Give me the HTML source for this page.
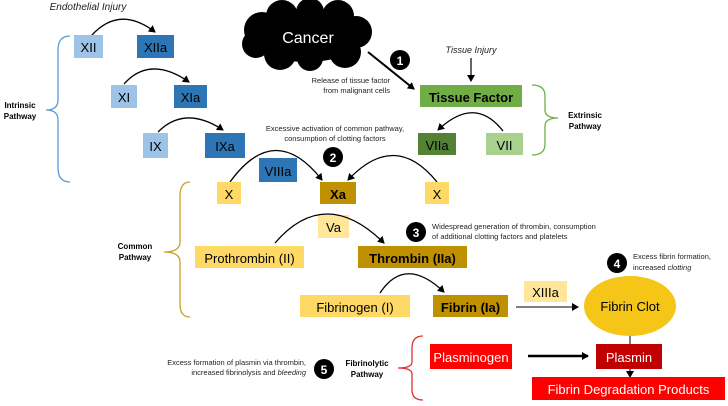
<!DOCTYPE html>
<html><head><meta charset="utf-8"><style>
html,body{margin:0;padding:0;background:#fff;}
svg{display:block;font-family:"Liberation Sans",Arial,sans-serif;}
</style></head><body>
<svg width="728" height="406" viewBox="0 0 728 406" xmlns="http://www.w3.org/2000/svg">
<defs>
<marker id="a" markerWidth="8" markerHeight="8" refX="6" refY="4" orient="auto" markerUnits="userSpaceOnUse"><path d="M0,0 L7,4 L0,8 z" fill="#000"/></marker>
</defs>
<rect width="728" height="406" fill="#fff"/>

<!-- cloud -->
<g fill="#000">
<ellipse cx="306" cy="36" rx="58" ry="26"/>
<circle cx="262" cy="30" r="18"/><circle cx="282" cy="16" r="16"/><circle cx="310" cy="12" r="14"/>
<circle cx="338" cy="16" r="16"/><circle cx="356" cy="32" r="16"/><circle cx="345" cy="52" r="16"/>
<circle cx="310" cy="58" r="13"/><circle cx="280" cy="54" r="16"/><circle cx="256" cy="44" r="14"/>
</g>
<text x="308" y="43" font-size="16" fill="#fff" text-anchor="middle">Cancer</text>

<!-- intrinsic -->
<text x="88" y="10" font-size="10" font-style="italic" text-anchor="middle" fill="#222">Endothelial Injury</text>
<path d="M92,35 Q120,5 155,32" fill="none" stroke="#000" stroke-width="1.3" marker-end="url(#a)"/>
<rect x="74" y="35" width="29" height="23" fill="#9dc3e6"/><text x="88.5" y="52" font-size="13" text-anchor="middle">XII</text>
<rect x="137" y="35" width="37" height="23" fill="#2e75b6"/><text x="155.5" y="52" font-size="13" text-anchor="middle">XIIa</text>
<path d="M124,84 Q150,55 189,82" fill="none" stroke="#000" stroke-width="1.3" marker-end="url(#a)"/>
<rect x="111" y="85" width="26" height="23" fill="#9dc3e6"/><text x="124" y="102" font-size="13" text-anchor="middle">XI</text>
<rect x="174" y="85" width="33" height="23" fill="#2e75b6"/><text x="190.5" y="102" font-size="13" text-anchor="middle">XIa</text>
<path d="M158,132 Q185,105 223,130" fill="none" stroke="#000" stroke-width="1.3" marker-end="url(#a)"/>
<rect x="143" y="133" width="25" height="25" fill="#9dc3e6"/><text x="155.5" y="151" font-size="13" text-anchor="middle">IX</text>
<rect x="205" y="133" width="40" height="25" fill="#2e75b6"/><text x="225" y="151" font-size="13" text-anchor="middle">IXa</text>
<path d="M70,36 Q58,36 58,50 L58,100 Q58,110 46,110 Q58,110 58,120 L58,168 Q58,182 70,182" fill="none" stroke="#5b9bd5" stroke-width="1.3"/>
<text x="20" y="108" font-size="8" font-weight="bold" text-anchor="middle">Intrinsic</text>
<text x="20" y="119" font-size="8" font-weight="bold" text-anchor="middle">Pathway</text>

<!-- extrinsic -->
<line x1="368" y1="52" x2="414" y2="89" stroke="#000" stroke-width="2" marker-end="url(#a)"/>
<circle cx="400" cy="60" r="10" fill="#000"/><text x="400" y="65" font-size="12" font-weight="bold" fill="#fff" text-anchor="middle">1</text>
<text x="390" y="83" font-size="7.5" text-anchor="end" fill="#222">Release of tissue factor</text>
<text x="390" y="93" font-size="7.5" text-anchor="end" fill="#222">from malignant cells</text>
<text x="471" y="53" font-size="9" font-style="italic" text-anchor="middle" fill="#222">Tissue Injury</text>
<line x1="471" y1="58" x2="471" y2="81" stroke="#000" stroke-width="1.2" marker-end="url(#a)"/>
<rect x="420" y="85" width="102" height="22" fill="#70ad47"/><text x="471" y="102" font-size="13" font-weight="bold" text-anchor="middle">Tissue Factor</text>
<path d="M503,131 Q475,95 438,130" fill="none" stroke="#000" stroke-width="1.3" marker-end="url(#a)"/>
<rect x="418" y="133" width="38" height="22" fill="#548235"/><text x="437" y="150" font-size="13" text-anchor="middle">VIIa</text>
<rect x="486" y="133" width="37" height="22" fill="#a9d18e"/><text x="504.5" y="150" font-size="13" text-anchor="middle">VII</text>
<path d="M532,85 Q545,85 545,96 L545,110 Q545,118 558,118 Q545,118 545,126 L545,144 Q545,155 532,155" fill="none" stroke="#70ad47" stroke-width="1.3"/>
<text x="585" y="118" font-size="8" font-weight="bold" text-anchor="middle">Extrinsic</text>
<text x="585" y="129" font-size="8" font-weight="bold" text-anchor="middle">Pathway</text>

<!-- common -->
<text x="335" y="131" font-size="7.5" text-anchor="middle" fill="#222">Excessive activation of common pathway,</text>
<text x="335" y="141" font-size="7.5" text-anchor="middle" fill="#222">consumption of clotting factors</text>
<circle cx="333" cy="157" r="10" fill="#000"/><text x="333" y="162" font-size="12" font-weight="bold" fill="#fff" text-anchor="middle">2</text>
<path d="M230,182 Q275,120 322,180" fill="none" stroke="#000" stroke-width="1.3" marker-end="url(#a)"/>
<path d="M437,182 Q395,130 348,180" fill="none" stroke="#000" stroke-width="1.3" marker-end="url(#a)"/>
<rect x="259" y="158" width="38" height="24" fill="#2e75b6"/><text x="278" y="176" font-size="13" text-anchor="middle">VIIIa</text>
<rect x="217" y="182" width="24" height="22" fill="#ffd966"/><text x="229" y="199" font-size="13" text-anchor="middle">X</text>
<rect x="320" y="182" width="36" height="22" fill="#bf9000"/><text x="338" y="199" font-size="13" font-weight="bold" text-anchor="middle">Xa</text>
<rect x="425" y="182" width="24" height="22" fill="#ffd966"/><text x="437" y="199" font-size="13" text-anchor="middle">X</text>
<rect x="318" y="215" width="31" height="23" fill="#ffe699"/><text x="333.5" y="232" font-size="13" text-anchor="middle">Va</text>
<path d="M275,243 Q325,185 384,243" fill="none" stroke="#000" stroke-width="1.3" marker-end="url(#a)"/>
<rect x="195" y="246" width="109" height="22" fill="#ffd966"/><text x="249.5" y="263" font-size="13" text-anchor="middle">Prothrombin (II)</text>
<rect x="358" y="246" width="109" height="22" fill="#bf9000"/><text x="412.5" y="263" font-size="13" font-weight="bold" text-anchor="middle">Thrombin (IIa)</text>
<circle cx="416" cy="232" r="10" fill="#000"/><text x="416" y="237" font-size="12" font-weight="bold" fill="#fff" text-anchor="middle">3</text>
<text x="432" y="229" font-size="7.5" fill="#222">Widespread generation of thrombin, consumption</text>
<text x="432" y="239" font-size="7.5" fill="#222">of additional clotting factors and platelets</text>
<path d="M380,293 Q405,255 444,292" fill="none" stroke="#000" stroke-width="1.3" marker-end="url(#a)"/>
<rect x="300" y="295" width="110" height="22" fill="#ffd966"/><text x="355" y="312" font-size="13" text-anchor="middle">Fibrinogen (I)</text>
<rect x="433" y="295" width="75" height="22" fill="#bf9000"/><text x="470.5" y="312" font-size="13" font-weight="bold" text-anchor="middle">Fibrin (Ia)</text>
<path d="M190,182 Q180,182 180,196 L180,242 Q180,252 164,252 Q180,252 180,262 L180,304 Q180,317 190,317" fill="none" stroke="#c9a227" stroke-width="1.3"/>
<text x="135" y="249" font-size="8" font-weight="bold" text-anchor="middle">Common</text>
<text x="135" y="260" font-size="8" font-weight="bold" text-anchor="middle">Pathway</text>

<!-- clot -->
<rect x="524" y="281" width="43" height="21" fill="#ffe699"/><text x="545.5" y="297" font-size="13" text-anchor="middle">XIIIa</text>
<line x1="516" y1="307" x2="578" y2="307" stroke="#000" stroke-width="1" marker-end="url(#a)"/>
<ellipse cx="630" cy="306" rx="46" ry="30" fill="#f5c518"/>
<text x="630" y="311" font-size="13" text-anchor="middle">Fibrin Clot</text>
<circle cx="617" cy="263" r="10" fill="#000"/><text x="617" y="268" font-size="12" font-weight="bold" fill="#fff" text-anchor="middle">4</text>
<text x="633" y="259" font-size="7.5" fill="#222">Excess fibrin formation,</text>
<text x="633" y="270" font-size="7.5" fill="#222">increased <tspan font-style="italic">clotting</tspan></text>

<!-- fibrinolytic -->
<line x1="630" y1="336" x2="630" y2="344" stroke="#000" stroke-width="1"/>
<rect x="430" y="344" width="82" height="25" fill="#ff0000"/><text x="471" y="362" font-size="13" fill="#fff" text-anchor="middle">Plasminogen</text>
<line x1="528" y1="356" x2="588" y2="356" stroke="#000" stroke-width="2.5" marker-end="url(#a)"/>
<rect x="596" y="344" width="66" height="25" fill="#c00000"/><text x="629" y="362" font-size="13" fill="#fff" text-anchor="middle">Plasmin</text>
<line x1="630" y1="369" x2="630" y2="377" stroke="#000" stroke-width="1" marker-end="url(#a)"/>
<rect x="532" y="377" width="193" height="23" fill="#ff0000"/><text x="628.5" y="394" font-size="13" fill="#fff" text-anchor="middle">Fibrin Degradation Products</text>
<path d="M423,336 Q412,336 412,348 L412,362 Q412,368 398,368 Q412,368 412,374 L412,390 Q412,400 423,400" fill="none" stroke="#e03030" stroke-width="1.3"/>
<text x="367" y="366" font-size="8" font-weight="bold" text-anchor="middle">Fibrinolytic</text>
<text x="367" y="377" font-size="8" font-weight="bold" text-anchor="middle">Pathway</text>
<circle cx="324" cy="369" r="10" fill="#000"/><text x="324" y="374" font-size="12" font-weight="bold" fill="#fff" text-anchor="middle">5</text>
<text x="306" y="365" font-size="7.5" text-anchor="end" fill="#222">Excess formation of plasmin via thrombin,</text>
<text x="306" y="375" font-size="7.5" text-anchor="end" fill="#222">increased fibrinolysis and <tspan font-style="italic">bleeding</tspan></text>
</svg>
</body></html>
